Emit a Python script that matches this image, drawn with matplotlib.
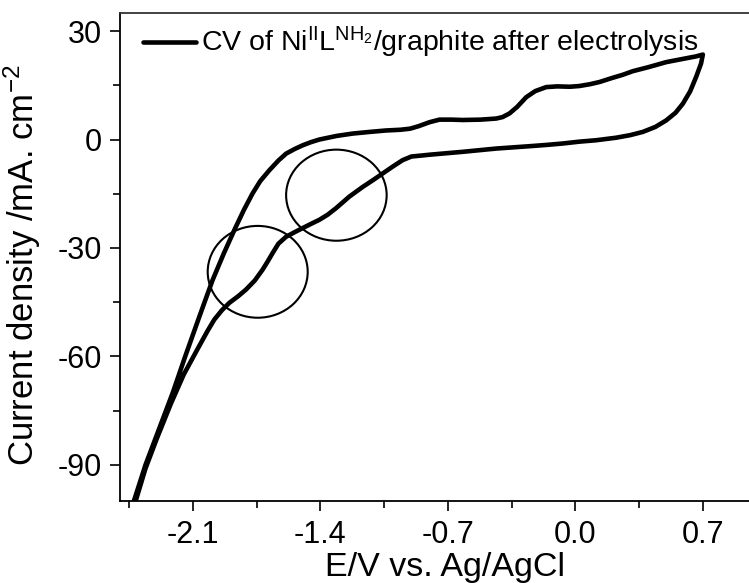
import numpy as np
import matplotlib
matplotlib.use('Agg')
import matplotlib.pyplot as plt
from matplotlib.patches import Ellipse

plt.rcParams['font.family'] = ['Liberation Sans', 'DejaVu Sans']
plt.rcParams['mathtext.fontset'] = 'custom'
plt.rcParams['mathtext.rm'] = 'Liberation Sans'
plt.rcParams['mathtext.it'] = 'Liberation Sans:italic'
plt.rcParams['axes.unicode_minus'] = False

# forward scan (upper branch), E in V vs Ag/AgCl, j in mA cm-2
E_fwd = [-2.43, -2.36, -2.30, -2.21, -2.142, -2.07, -2.03, -1.991, -1.93,
         -1.87, -1.82, -1.772, -1.73, -1.680, -1.63, -1.588, -1.54, -1.497,
         -1.45, -1.405, -1.31, -1.222, -1.13, -1.04, -0.96, -0.907, -0.86,
         -0.80, -0.746, -0.68, -0.618, -0.52, -0.435, -0.40, -0.362, -0.32,
         -0.270, -0.22, -0.160, -0.10, -0.03, 0.022, 0.08, 0.132, 0.20,
         0.26, 0.315, 0.40, 0.498, 0.58, 0.663, 0.70]
j_fwd = [-101, -90, -82, -70, -60, -49.8, -44.2, -38.8, -31.5,
         -24.8, -19.5, -14.9, -11.5, -8.5, -5.8, -3.9, -2.6, -1.6,
         -0.7, 0.0, 1.0, 1.65, 2.1, 2.5, 2.7, 3.0, 3.7,
         4.8, 5.5, 5.5, 5.4, 5.5, 5.8, 6.2, 7.2, 9.0,
         11.7, 13.4, 14.5, 14.7, 14.6, 14.8, 15.3, 15.9, 17.0,
         17.9, 18.9, 20.0, 21.4, 22.2, 23.0, 23.5]

# reverse scan (lower branch)
E_rev = [0.70, 0.69, 0.663, 0.63, 0.590, 0.55, 0.499, 0.44, 0.370, 0.30,
         0.224, 0.114, 0.02, -0.069, -0.16, -0.252, -0.435, -0.618, -0.80,
         -0.838, -0.90, -0.948, -1.00, -1.058, -1.11, -1.167, -1.241, -1.314,
         -1.36, -1.405, -1.45, -1.497, -1.54, -1.588, -1.63, -1.662, -1.69,
         -1.717, -1.76, -1.808, -1.85, -1.900, -1.94, -1.982, -2.02, -2.08,
         -2.15, -2.22, -2.30, -2.36, -2.42]
j_rev = [23.5, 21.0, 17.3, 13.3, 9.9, 7.4, 5.3, 3.5, 2.1, 1.2,
         0.5, -0.2, -0.6, -1.1, -1.5, -1.85, -2.5, -3.4, -4.2,
         -4.4, -4.7, -5.7, -7.4, -9.4, -11.2, -13.1, -15.8, -19.0,
         -20.8, -22.2, -23.3, -24.5, -25.6, -26.9, -28.8, -31.4, -33.8,
         -36.0, -39.0, -41.5, -43.3, -45.2, -47.2, -49.8, -53.0, -58.5,
         -65, -73, -83, -91, -101]

# highlighted regions (centre E, centre j, width, height)
marks_E = [-1.312, -1.744]
marks_j = [-15.4, -36.6]
marks_w = [0.552, 0.549]
marks_h = [25.2, 25.4]

xticks = [-2.1, -1.4, -0.7, 0.0, 0.7]
yticks = [30, 0, -30, -60, -90]

fig = plt.figure(figsize=(7.49, 5.83), dpi=100)
ax = fig.add_axes([120 / 749, 82 / 583, 650 / 749, 488 / 583])

E = E_fwd + E_rev
j = j_fwd + j_rev
ax.plot(E, j, color='black', lw=3.3, solid_joinstyle='round',
        solid_capstyle='round',
        label=r'CV of Ni$^{\mathrm{II}}$L$^{\mathrm{NH_2}}$/graphite after electrolysis')

for cx, cy, w, h in zip(marks_E, marks_j, marks_w, marks_h):
    ax.add_patch(Ellipse((cx, cy), w, h, fill=False, edgecolor='black', lw=1.5))

ax.set_xlim(-2.5, -2.5 + 650 / 182.14)
ax.set_ylim(-100, 35)
ax.set_xticks(xticks)
ax.set_xticklabels(['%.1f' % v for v in xticks])
ax.set_xticks(np.arange(-2.45, 0.9, 0.35), minor=True)
ax.set_yticks(yticks)
ax.set_yticklabels(['%d' % v for v in yticks])
ax.set_yticks(np.arange(-90, 35, 15), minor=True)

ax.tick_params(which='major', direction='out', length=7, width=1.2, labelsize=22)
ax.tick_params(axis='x', which='major', pad=7)
ax.tick_params(axis='y', which='major', pad=6)
ax.tick_params(which='minor', direction='out', length=5, width=1.2)
for s in ax.spines.values():
    s.set_linewidth(1.3)
ax.spines['top'].set_color('#333333')
ax.spines['right'].set_visible(False)

ax.set_xlabel('E/V vs. Ag/AgCl', fontsize=24.5, labelpad=1)
ax.set_ylabel(r'Current density /mA. cm$^{-2}$', fontsize=25)
ax.yaxis.set_label_coords(-0.118, 0.483)

ax.legend(loc='upper left', bbox_to_anchor=(143 / 749, 1 - 25 / 583),
          bbox_transform=fig.transFigure, frameon=False, fontsize=20.5,
          handlelength=1.85, handletextpad=0.2, borderpad=0, borderaxespad=0)

fig.savefig('out.png', dpi=100)
